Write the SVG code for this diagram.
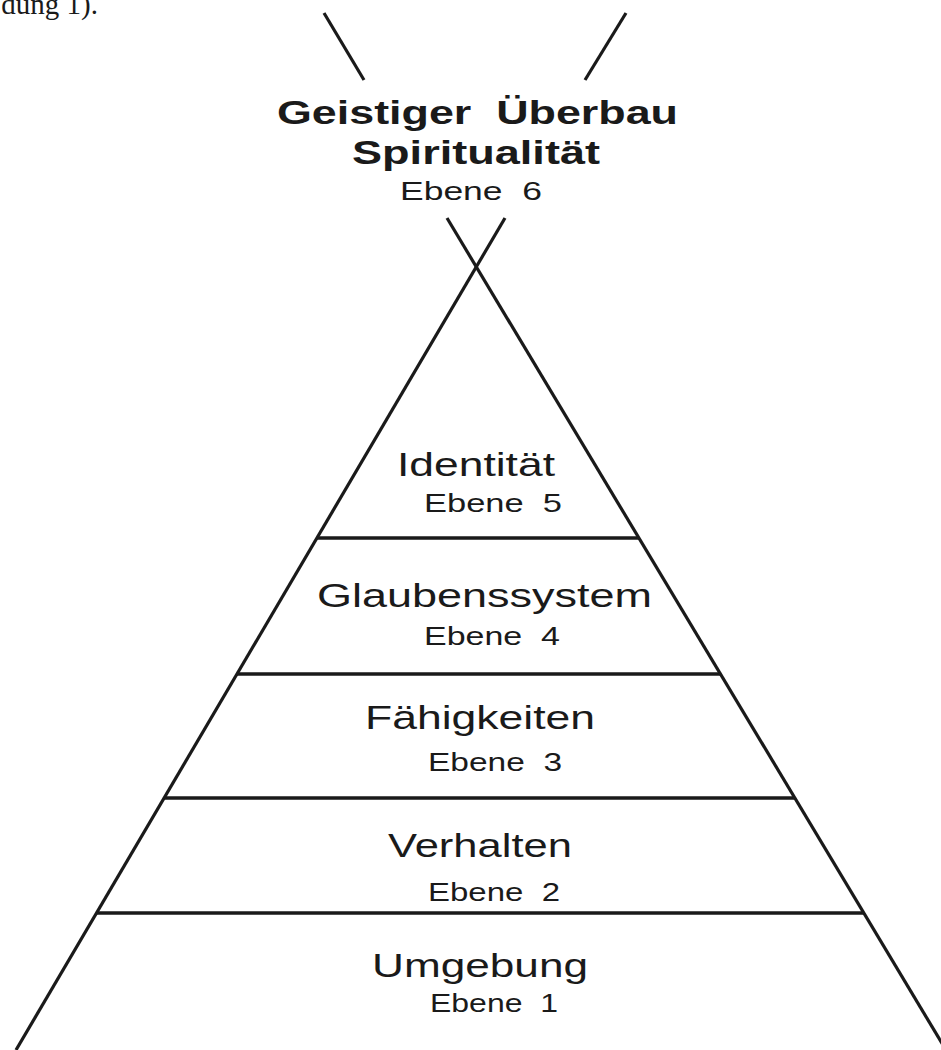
<svg xmlns="http://www.w3.org/2000/svg" width="941" height="1050" viewBox="0 0 941 1050">
<style>
.ln{stroke:#1a1a1a;stroke-width:3.2;fill:none;stroke-linecap:butt}
.dv{stroke:#1a1a1a;stroke-width:3.4;fill:none}
text{fill:#1a1a1a;white-space:pre}
.hd{font-family:"Liberation Sans",Arial,sans-serif;font-weight:bold;font-size:33px}
.lab{font-family:"Liberation Sans",Arial,sans-serif;font-size:34px}
.eb{font-family:"Liberation Sans",Arial,sans-serif;font-size:25px}
.cap{font-family:"Liberation Serif","Times New Roman",serif;font-size:29px}
</style>
<rect width="941" height="1050" fill="#ffffff"/>
<text class="cap" x="98" y="14" text-anchor="end">dung 1).</text>
<g id="connectors">
<line class="ln" x1="324" y1="13" x2="364" y2="80"/>
<line class="ln" x1="626" y1="13" x2="585" y2="80"/>
<line class="ln" x1="447" y1="218" x2="946" y2="1050"/>
<line class="ln" x1="505" y1="218" x2="16" y2="1050"/>
<line class="dv" x1="317" y1="538" x2="639" y2="538"/>
<line class="dv" x1="237" y1="674" x2="720" y2="674"/>
<line class="dv" x1="164" y1="798" x2="795" y2="798"/>
<line class="dv" x1="97" y1="913" x2="864" y2="913"/>
</g>
<g id="level6">
<text class="hd" x="277" y="124" textLength="401" lengthAdjust="spacingAndGlyphs">Geistiger  Überbau</text>
<text class="hd" x="352" y="164" textLength="248" lengthAdjust="spacingAndGlyphs">Spiritualität</text>
<text class="eb" x="400" y="200" textLength="142" lengthAdjust="spacingAndGlyphs">Ebene  6</text>
</g>
<g id="level5">
<text class="lab" x="397" y="476" textLength="158" lengthAdjust="spacingAndGlyphs">Identität</text>
<text class="eb" x="424" y="512" textLength="138" lengthAdjust="spacingAndGlyphs">Ebene  5</text>
</g>
<g id="level4">
<text class="lab" x="317" y="607" textLength="335" lengthAdjust="spacingAndGlyphs">Glaubenssystem</text>
<text class="eb" x="424" y="645" textLength="136" lengthAdjust="spacingAndGlyphs">Ebene  4</text>
</g>
<g id="level3">
<text class="lab" x="365" y="729" textLength="230" lengthAdjust="spacingAndGlyphs">Fähigkeiten</text>
<text class="eb" x="428" y="771" textLength="134" lengthAdjust="spacingAndGlyphs">Ebene  3</text>
</g>
<g id="level2">
<text class="lab" x="388" y="857" textLength="184" lengthAdjust="spacingAndGlyphs">Verhalten</text>
<text class="eb" x="428" y="901" textLength="132" lengthAdjust="spacingAndGlyphs">Ebene  2</text>
</g>
<g id="level1">
<text class="lab" x="372" y="977" textLength="216" lengthAdjust="spacingAndGlyphs">Umgebung</text>
<text class="eb" x="430" y="1012" textLength="128" lengthAdjust="spacingAndGlyphs">Ebene  1</text>
</g>
</svg>
